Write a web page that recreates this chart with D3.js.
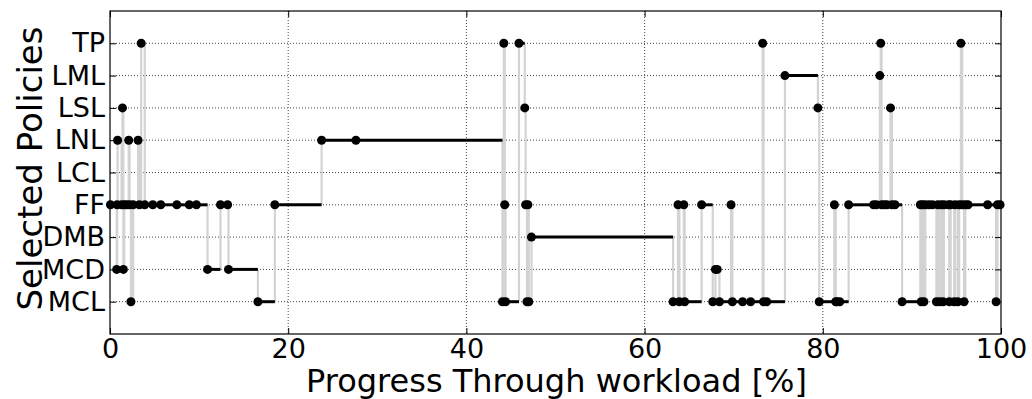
<!DOCTYPE html>
<html>
<head>
<meta charset="utf-8">
<script src="https://cdn.jsdelivr.net/npm/d3@7"></script>
<style>
  html, body { margin: 0; padding: 0; background: #fff; }
  svg { display: block; }
  text { font-family: "DejaVu Sans", sans-serif; fill: #000; }
</style>
</head>
<body>
<svg id="chart" width="1032" height="399"></svg>
<script>
// Policy names, bottom to top on the y axis
const policies = ["MCL", "MCD", "DMB", "FF", "LCL", "LNL", "LSL", "LML", "TP"];

// Workload progress (%) at which each selection was made
const progress = [
  0.05, 0.75, 0.8, 0.85, 1.3, 1.4, 1.5, 1.6, 1.87, 2.1, 2.2, 2.35, 2.6, 3.15, 3.3, 3.5, 3.9,
  4.8, 5.7, 7.5, 8.9, 9.7, 10.95, 12.4, 13.2, 13.3, 16.6, 18.5, 23.75, 27.6,
  44.05, 44.2, 44.3, 44.4, 45.9, 46.55, 46.65, 46.8, 46.9, 47.0, 47.3,
  63.2, 63.75, 63.9, 64.4, 64.5, 66.4, 67.65, 67.95, 68.15, 68.4, 69.7, 69.85,
  71.0, 71.9, 73.25, 73.35, 73.7, 75.75, 79.45, 79.6,
  81.3, 81.45, 81.6, 81.9, 82.9, 85.7, 86.0, 86.4, 86.5, 86.6, 86.9, 87.2, 87.6, 87.75, 88.1,
  88.9, 90.95, 91.05, 91.2, 91.35, 91.5, 91.9, 92.3, 92.75, 92.9, 93.1, 93.3, 93.5, 93.6,
  94.1, 94.2, 94.35, 94.75, 94.85, 95.15, 95.3, 95.5, 95.65, 95.85, 96.0, 96.3, 98.5,
  99.45, 99.6, 99.9
];

// Policy chosen at each of those points
const selected = [
  "FF", "MCD", "FF", "LNL", "FF", "LSL", "MCD", "FF", "FF", "LNL", "FF", "MCL", "FF", "LNL", "FF", "TP", "FF",
  "FF", "FF", "FF", "FF", "FF", "MCD", "FF", "FF", "MCD", "MCL", "FF", "LNL", "LNL",
  "MCL", "TP", "FF", "MCL", "TP", "LSL", "FF", "MCL", "FF", "MCL", "DMB",
  "MCL", "FF", "MCL", "FF", "MCL", "FF", "MCL", "MCD", "MCD", "MCL", "FF", "MCL",
  "MCL", "MCL", "TP", "MCL", "MCL", "LML", "LSL", "MCL",
  "FF", "MCL", "MCL", "MCL", "FF", "FF", "FF", "LML", "TP", "FF", "FF", "FF", "LSL", "FF", "FF",
  "MCL", "FF", "MCL", "FF", "MCL", "FF", "FF", "FF", "MCL", "FF", "MCL", "FF", "MCL", "FF",
  "FF", "MCL", "FF", "MCL", "FF", "MCL", "FF", "TP", "FF", "MCL", "FF", "FF", "FF",
  "MCL", "FF", "FF"
];

const xTicks = [0, 20, 40, 60, 80, 100];
const xDomain = [0, 100];

const xTitle = "Progress Through workload [%]";
const yTitle = "Selected Policies";

const svg = d3.select("#chart");
const margin = { left: 110, right: 31, top: 11, bottom: 65 };
const W = 1032, H = 399;
const pw = W - margin.left - margin.right;
const ph = H - margin.top - margin.bottom;

const g = svg.append("g").attr("transform", `translate(${margin.left},${margin.top})`);

const x = d3.scaleLinear().domain(xDomain).range([0, pw]);
// categories sit on integer positions with one unit of padding above and below
const yIdx = d3.scaleLinear().domain([-1, policies.length]).range([ph, 0]);
const y = p => yIdx(policies.indexOf(p));

const data = progress.map((v, i) => ({ x: v, p: selected[i] }));
const segs = data.map((d, i) => ({
  x0: d.x,
  x1: i < data.length - 1 ? data[i + 1].x : xDomain[1],
  p: d.p
}));

// dotted grid
const grid = g.append("g").attr("class", "grid");
grid.selectAll("line.gx").data(xTicks.filter(t => t > xDomain[0] && t < xDomain[1]))
  .join("line")
  .attr("x1", d => x(d)).attr("x2", d => x(d))
  .attr("y1", 0).attr("y2", ph)
  .attr("stroke", "#444").attr("stroke-width", 1).attr("stroke-dasharray", "1,2");
grid.selectAll("line.gy").data(policies)
  .join("line")
  .attr("x1", 0).attr("x2", pw)
  .attr("y1", d => y(d)).attr("y2", d => y(d))
  .attr("stroke", "#444").attr("stroke-width", 1).attr("stroke-dasharray", "1,2");

// light grey risers at each switch of policy
g.append("g").selectAll("line").data(data.slice(1).map((d, i) => ({ x: d.x, from: data[i].p, to: d.p })).filter(d => d.from !== d.to))
  .join("line")
  .attr("x1", d => x(d.x)).attr("x2", d => x(d.x))
  .attr("y1", d => y(d.from)).attr("y2", d => y(d.to))
  .attr("stroke", "#d3d3d3").attr("stroke-width", 2.2);

// black runs for the time each policy stays selected
g.append("g").selectAll("line").data(segs)
  .join("line")
  .attr("x1", d => x(d.x0)).attr("x2", d => x(d.x1))
  .attr("y1", d => y(d.p)).attr("y2", d => y(d.p))
  .attr("stroke", "#000").attr("stroke-width", 3);

// selection points
g.append("g").selectAll("circle").data(data)
  .join("circle")
  .attr("cx", d => x(d.x)).attr("cy", d => y(d.p))
  .attr("r", 4.5).attr("fill", "#000");

// frame
g.append("rect").attr("x", 0).attr("y", 0).attr("width", pw).attr("height", ph)
  .attr("fill", "none").attr("stroke", "#000").attr("stroke-width", 1.2);

// axes with inward ticks
const tickLen = 6;
const xAxis = g.append("g").attr("transform", `translate(0,${ph})`)
  .call(d3.axisBottom(x).tickValues(xTicks).tickSizeInner(-tickLen).tickSizeOuter(0).tickPadding(5).tickFormat(d3.format("d")));
const xAxisTop = g.append("g")
  .call(d3.axisTop(x).tickValues(xTicks).tickSizeInner(-tickLen).tickSizeOuter(0).tickFormat(""));
const yAxis = g.append("g")
  .call(d3.axisLeft(yIdx).tickValues(policies.map((p, i) => i)).tickSizeInner(-tickLen).tickSizeOuter(0).tickPadding(5).tickFormat(i => policies[i]));
const yAxisR = g.append("g").attr("transform", `translate(${pw},0)`)
  .call(d3.axisRight(yIdx).tickValues(policies.map((p, i) => i)).tickSizeInner(-tickLen).tickSizeOuter(0).tickFormat(""));

[xAxis, xAxisTop, yAxis, yAxisR].forEach(a => {
  a.select(".domain").remove();
  a.selectAll(".tick line").attr("stroke", "#000").attr("stroke-width", 1);
  a.selectAll("text").attr("font-family", "DejaVu Sans").attr("font-size", 27).attr("fill", "#000");
});

// axis titles
svg.append("text")
  .attr("x", margin.left + pw / 2 + 1).attr("y", 392)
  .attr("text-anchor", "middle").attr("font-size", 32)
  .text(xTitle);

svg.append("text")
  .attr("transform", `translate(42,${margin.top + ph / 2 - 4}) rotate(-90)`)
  .attr("text-anchor", "middle").attr("font-size", 34)
  .text(yTitle);
</script>
</body>
</html>
